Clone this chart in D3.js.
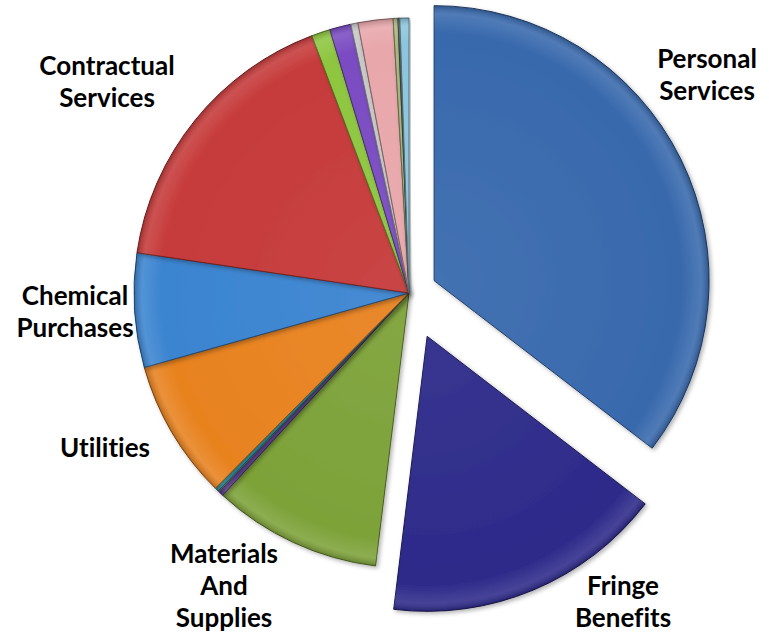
<!DOCTYPE html>
<html>
<head>
<meta charset="utf-8">
<script src="https://cdn.jsdelivr.net/npm/d3@7"></script>
<style>
  html, body { margin: 0; padding: 0; background: #ffffff; }
  svg { display: block; }
  .lbl { font-family: Lato, "Open Sans", sans-serif; font-weight: 700; font-size: 26px; fill: #000;
         font-variant-ligatures: none; font-feature-settings: "liga" 0; }
</style>
</head>
<body>
<svg id="chart" width="769" height="633"></svg>
<script>
// Expense categories, in clockwise order from 12 o'clock
const categories = [
  "Personal Services", "Fringe Benefits", "Materials And Supplies",
  "Other 1", "Other 2", "Other 3",
  "Utilities", "Chemical Purchases", "Contractual Services",
  "Other 4", "Other 5", "Other 6", "Other 7", "Other 8", "Other 9", "Other 10"
];
// Share of total budget (%)
const shares = [
  35.4, 16.5, 9.9,
  0.28, 0.08, 0.22,
  8.2, 6.7, 16.9,
  1.1, 1.25, 0.42, 2.05, 0.28, 0.11, 0.53
];
// Slice colours
const colors = [
  "#3869ad", "#2d2a8a", "#7da239",
  "#6b48a8", "#8a8a8a", "#2a9fb2",
  "#e8821f", "#3b84d0", "#c63a3a",
  "#8ec640", "#7a4cc2", "#c9c9c9", "#e8a7ab", "#a9b982", "#6a6a6a", "#8cc5dd"
];
// Pulled-out distance of the exploded slices (px)
const explode = { "Personal Services": 28, "Fringe Benefits": 47 };

// Category labels: text lines and anchor position
const labels = [
  { name: "Personal Services", lines: ["Personal", "Services"], x: 707, y: 68 },
  { name: "Fringe Benefits", lines: ["Fringe", "Benefits"], x: 623, y: 595 },
  { name: "Materials And Supplies", lines: ["Materials", "And", "Supplies"], x: 224, y: 563 },
  { name: "Utilities", lines: ["Utilities"], x: 105, y: 457 },
  { name: "Chemical Purchases", lines: ["Chemical", "Purchases"], x: 75, y: 305 },
  { name: "Contractual Services", lines: ["Contractual", "Services"], x: 107, y: 75 }
];

const svg = d3.select("#chart");
const cx = 409, cy = 293, R = 275;

const defs = svg.append("defs");
// soft drop shadow under each slice
const f = defs.append("filter").attr("id", "shadow")
  .attr("x", "-10%").attr("y", "-10%").attr("width", "125%").attr("height", "125%");
f.append("feDropShadow").attr("dx", 2).attr("dy", 2).attr("stdDeviation", 2)
  .attr("flood-color", "#000").attr("flood-opacity", 0.3);

// subtle sheen: lighter towards the centre, slightly darker at the rim
const sheen = defs.append("radialGradient").attr("id", "sheen")
  .attr("gradientUnits", "userSpaceOnUse").attr("cx", 0).attr("cy", 0).attr("r", R);
sheen.append("stop").attr("offset", "0%").attr("stop-color", "#fff").attr("stop-opacity", 0.06);
sheen.append("stop").attr("offset", "90%").attr("stop-color", "#fff").attr("stop-opacity", 0.0);
sheen.append("stop").attr("offset", "97%").attr("stop-color", "#fff").attr("stop-opacity", 0.12);
sheen.append("stop").attr("offset", "100%").attr("stop-color", "#000").attr("stop-opacity", 0.2);

const data = categories.map((c, i) => ({ name: c, value: shares[i], color: colors[i] }));
const pie = d3.pie().value(d => d.value).sort(null).startAngle(0).endAngle(2 * Math.PI);
const arc = d3.arc().innerRadius(0).outerRadius(R);

const g = svg.append("g").attr("transform", `translate(${cx},${cy})`);
const slices = g.selectAll("g.slice")
  .data(pie(data))
  .join("g")
  .attr("class", "slice")
  .attr("transform", d => {
    const off = explode[d.data.name] || 0;
    const a = (d.startAngle + d.endAngle) / 2;
    return `translate(${off * Math.sin(a)},${-off * Math.cos(a)})`;
  })
  .attr("filter", "url(#shadow)");

slices.append("path")
  .attr("d", arc)
  .attr("fill", d => d.data.color)
  .attr("stroke", d => d3.color(d.data.color).darker(1.6))
  .attr("stroke-width", 1)
  .attr("stroke-linejoin", "round");

slices.append("path")
  .attr("d", arc)
  .attr("fill", "url(#sheen)")
  .attr("stroke", "none");

const lg = svg.append("g");
labels.forEach(l => {
  const t = lg.append("text").attr("class", "lbl").attr("text-anchor", "middle");
  l.lines.forEach((line, i) => {
    t.append("tspan").attr("x", l.x).attr("y", l.y + i * 32).text(line);
  });
});
</script>
</body>
</html>
